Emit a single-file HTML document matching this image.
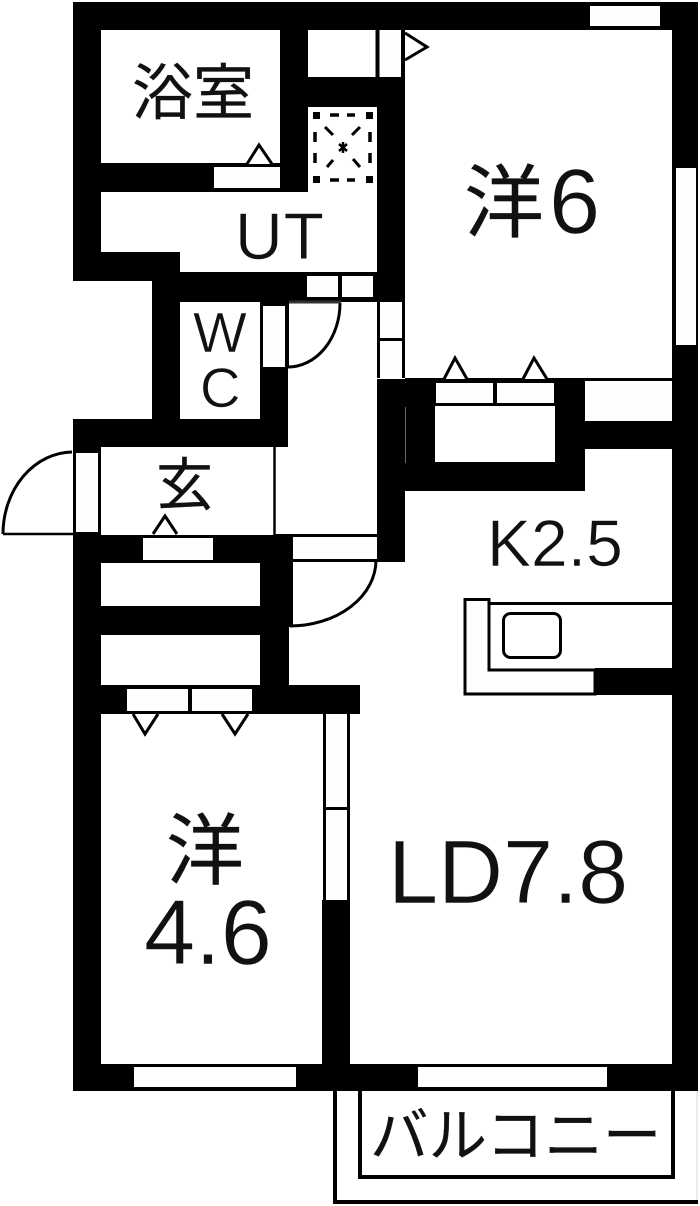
<!DOCTYPE html>
<html><head><meta charset="utf-8"><style>
html,body{margin:0;padding:0;background:#fff;width:700px;height:1206px;overflow:hidden}
svg{display:block}
.s{font-family:"Liberation Sans",sans-serif;fill:#111;stroke:#fff;stroke-width:.6}
.j{font-family:"Liberation Sans","Noto Sans CJK JP",sans-serif;fill:#111;stroke:#111;stroke-width:.25}
</style></head><body>
<svg width="700" height="1206" viewBox="0 0 700 1206" xmlns="http://www.w3.org/2000/svg">
<rect width="700" height="1206" fill="#fff"/>
<g fill="#000">
<rect x="73" y="2" width="625" height="28"/>
<rect x="73" y="2" width="28" height="279"/>
<rect x="73" y="252" width="107" height="29"/>
<rect x="672" y="2" width="26" height="1089"/>
<rect x="73" y="1064" width="625" height="27"/>
<rect x="73" y="535" width="28" height="556"/>
<rect x="101" y="163" width="207" height="29"/>
<rect x="280" y="30" width="28" height="162"/>
<rect x="308" y="77" width="97" height="30"/>
<rect x="377" y="77" width="28" height="225"/>
<rect x="152" y="272" width="253" height="30"/>
<rect x="152" y="272" width="28" height="150"/>
<rect x="260" y="367" width="28" height="80"/>
<rect x="260" y="300" width="29" height="6"/>
<rect x="73" y="419" width="215" height="28"/>
<rect x="73" y="419" width="28" height="115"/>
<rect x="377" y="379" width="28" height="183"/>
<rect x="405" y="379" width="30" height="112"/>
<rect x="405" y="462" width="180" height="29"/>
<rect x="555" y="379" width="30" height="112"/>
<rect x="435" y="379" width="120" height="27"/>
<rect x="585" y="421" width="87" height="28"/>
<rect x="405" y="378" width="267" height="3"/>
<rect x="73" y="535" width="220" height="28"/>
<rect x="260" y="535" width="29" height="152"/>
<rect x="101" y="606" width="160" height="29"/>
<rect x="101" y="685" width="259" height="29"/>
<rect x="322" y="900" width="28" height="165"/>
<rect x="595" y="668" width="77" height="27"/>
<rect x="275" y="534" width="102" height="3"/>
</g>
<rect x="405" y="407" width="1" height="56" fill="#666"/>
<g fill="none" stroke="#000" stroke-width="2.500">
<path d="M274.500 447V535"/>
<path d="M3 534H73"/>
<path d="M72 452A70 82 0 0 0 3 534" stroke-width="3"/>
<path d="M340 303A52 64 0 0 1 288 367" stroke-width="3"/>
<path d="M376 560A86 66 0 0 1 290 626" stroke-width="3"/>
<path d="M291 560V627" stroke-width="4"/>
<path d="M293 560.500H377" stroke-width="3"/>
<path d="M289 302H341" stroke="#333" stroke-width="3"/>
</g>
<g fill="#fefefc">
<rect x="590" y="6" width="70" height="20"/>
<rect x="676" y="168" width="20" height="177"/>
<rect x="214" y="167" width="66" height="21"/>
<rect x="307" y="276" width="31" height="21"/>
<rect x="342" y="276" width="31" height="21"/>
<rect x="436" y="383" width="57" height="20"/>
<rect x="497" y="383" width="57" height="20"/>
<rect x="143" y="538" width="70" height="22"/>
<rect x="127" y="689" width="61" height="22"/>
<rect x="192" y="689" width="60" height="22"/>
<rect x="134" y="1067" width="162" height="20"/>
<rect x="418" y="1067" width="189" height="20"/>
<rect x="293" y="538" width="83" height="21"/>
<rect x="380" y="303" width="22" height="35"/>
<rect x="380" y="341" width="22" height="35"/>
<rect x="380" y="32" width="21" height="44"/>
<rect x="263" y="306" width="22" height="61"/>
<rect x="76" y="453" width="22" height="79"/>
<rect x="326" y="716" width="21" height="91"/>
<rect x="326" y="810" width="21" height="90"/>
<rect x="585" y="383" width="87" height="37"/>
</g>
<g fill="none" stroke="#000" stroke-width="3">
<path d="M377.500 30V77" stroke-width="4"/>
<path d="M403 30V77" stroke-width="4"/>
<path d="M378.500 302V378M403.500 302V378M380 339.500H403"/>
<path d="M261.500 302V368"/>
<path d="M287 302V368" stroke-width="4"/>
<path d="M74.500 447V535M99.500 447V535"/>
<path d="M73 450H101M73 533.500H101"/>
<path d="M324.500 714V900M348.500 714V900M324 808.500H348"/>
</g>
<g fill="#fff" stroke="#000" stroke-width="3" stroke-linejoin="miter">
<path d="M247 164L259 145L272 164"/>
<path d="M444 379L455 358L467 379"/>
<path d="M523 379L534 358L547 379"/>
<path d="M153 534L165 516L177 534"/>
<path d="M133 714L145 734L158 714"/>
<path d="M222 714L235 734L248 714"/>
<path d="M405 33L427 47L405 60"/>
</g>
<g fill="none" stroke="#000" stroke-width="3.500">
<path d="M330 115H339M347 115H355M330 180H339M347 180H355"/>
<path d="M315 132V142M315 153V163M370 132V142M370 153V163"/>
<path d="M325 127L333 135M360 127L352 135M327 167L333 160M360 167L353 159" stroke-width="3"/>
<path d="M339 144L347 151M347 144L339 151M343 142V153" stroke-width="2.500"/>
</g>
<g fill="#000"><rect x="313" y="112" width="7" height="7"/><rect x="366" y="112" width="7" height="7"/><rect x="313" y="176" width="7" height="7"/><rect x="366" y="176" width="7" height="7"/></g>
<g fill="#fff" stroke="#000" stroke-width="3">
<path d="M465 694V599.500H489V670H595V694Z" fill="#fefefc"/>
<path d="M489 603.500H672"/>
<rect x="503.500" y="613.500" width="57" height="44" rx="7"/>
</g>
<rect x="696.500" y="1091" width="1" height="110" fill="#d8d8d8"/>
<g fill="none" stroke="#000" stroke-width="4">
<path d="M335 1091V1202H698"/>
<path d="M360 1091V1177H673V1091"/>
</g>
<text class="j" x="132" y="114" font-size="61">浴室</text>
<text class="s" x="235" y="259" font-size="66" letter-spacing="1">UT</text>
<text class="s" x="193" y="352" font-size="57">W</text>
<text class="s" x="200" y="407" font-size="56">C</text>
<text class="j" x="156" y="505" font-size="57">玄</text>
<text class="j" x="464" y="231" font-size="80">洋</text>
<text class="s" x="549" y="233" font-size="92">6</text>
<text class="j" x="166" y="878" font-size="78">洋</text>
<text class="s" x="144" y="964" font-size="92">4.6</text>
<text class="s" x="388" y="903" font-size="90">LD7.8</text>
<text class="s" x="487" y="566" font-size="66">K2.5</text>
<text class="j" x="370" y="1156" font-size="58.500">バルコニー</text>
</svg>
</body></html>
